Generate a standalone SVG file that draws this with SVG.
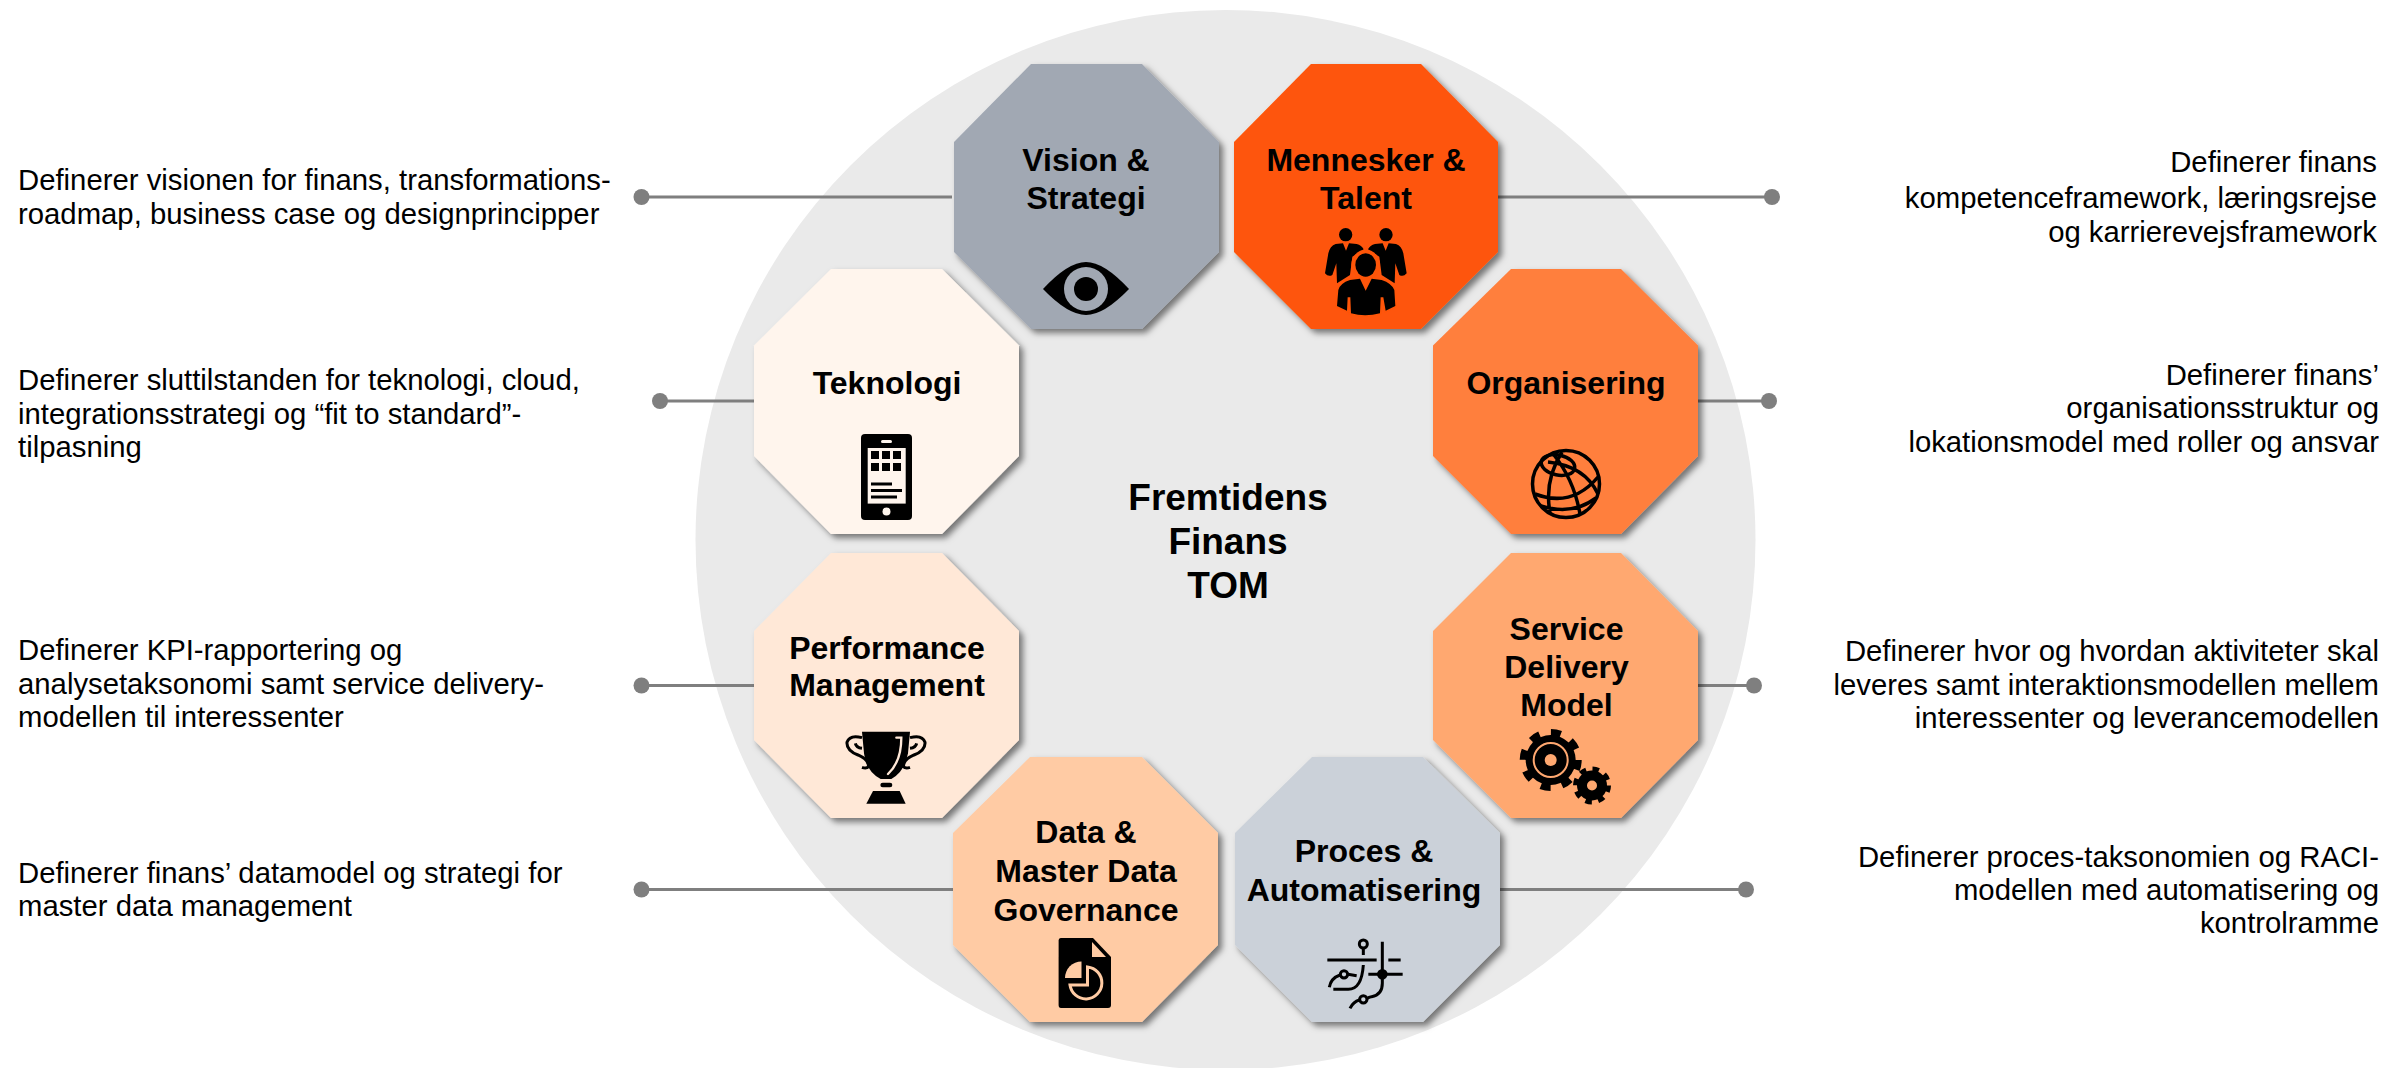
<svg xmlns="http://www.w3.org/2000/svg" width="2387" height="1068" viewBox="0 0 2387 1068">
<style>
text{font-family:"Liberation Sans",Arial,sans-serif;fill:#000}
.d{font-size:29.300px}
.r{text-anchor:end}
.n{font-size:32px;font-weight:700;text-anchor:middle}
.t{font-size:37px;font-weight:700;text-anchor:middle}
.oct{filter:url(#sh)}
.c{stroke:#7F7F7F;stroke-width:3;fill:none}
.dot{fill:#7F7F7F}
.k{fill:#000}
.sk{fill:none;stroke:#000}
</style>
<defs>
<filter id="sh" x="-10%" y="-10%" width="125%" height="125%"><feDropShadow dx="4" dy="4" stdDeviation="3" flood-color="#000" flood-opacity=".5"/></filter>
</defs>
<circle id="bg" cx="1225.500" cy="540" r="530" fill="#EAEAEA"/>
<g id="connectors">
<path class="c" d="M641 197H952"/><circle class="dot" cx="641.500" cy="197" r="8"/>
<path class="c" d="M660 401H756"/><circle class="dot" cx="660" cy="401" r="8"/>
<path class="c" d="M641 685.500H756"/><circle class="dot" cx="641.500" cy="685.500" r="8"/>
<path class="c" d="M641 889.500H955"/><circle class="dot" cx="641.500" cy="889.500" r="8"/>
<path class="c" d="M1496 197H1772"/><circle class="dot" cx="1772" cy="197" r="8"/>
<path class="c" d="M1696 401H1769"/><circle class="dot" cx="1769" cy="401" r="8"/>
<path class="c" d="M1696 685.500H1754"/><circle class="dot" cx="1754" cy="685.500" r="8"/>
<path class="c" d="M1498 889.500H1746"/><circle class="dot" cx="1746" cy="889.500" r="8"/>
</g>
<g id="desc-left">
<text class="d" x="18" y="190">Definerer visionen for finans, transformations-</text>
<text class="d" x="18" y="223.500">roadmap, business case og designprincipper</text>
<text class="d" x="18" y="390">Definerer sluttilstanden for teknologi, cloud,</text>
<text class="d" x="18" y="423.500">integrationsstrategi og “fit to standard”-</text>
<text class="d" x="18" y="457">tilpasning</text>
<text class="d" x="18" y="660">Definerer KPI-rapportering og</text>
<text class="d" x="18" y="694">analysetaksonomi samt service delivery-</text>
<text class="d" x="18" y="727">modellen til interessenter</text>
<text class="d" x="18" y="883">Definerer finans’ datamodel og strategi for</text>
<text class="d" x="18" y="916">master data management</text>
</g>
<g id="desc-right">
<text class="d r" x="2377" y="172">Definerer finans</text>
<text class="d r" x="2377" y="208">kompetenceframework, læringsrejse</text>
<text class="d r" x="2377" y="242">og karrierevejsframework</text>
<text class="d r" x="2379" y="385">Definerer finans’</text>
<text class="d r" x="2379" y="418">organisationsstruktur og</text>
<text class="d r" x="2379" y="452">lokationsmodel med roller og ansvar</text>
<text class="d r" x="2379" y="661">Definerer hvor og hvordan aktiviteter skal</text>
<text class="d r" x="2379" y="695">leveres samt interaktionsmodellen mellem</text>
<text class="d r" x="2379" y="728">interessenter og leverancemodellen</text>
<text class="d r" x="2379" y="867">Definerer proces-taksonomien og RACI-</text>
<text class="d r" x="2379" y="900">modellen med automatisering og</text>
<text class="d r" x="2379" y="933">kontrolramme</text>
</g>
<g id="center">
<text class="t" x="1228" y="510">Fremtidens</text>
<text class="t" x="1228" y="554">Finans</text>
<text class="t" x="1228" y="598">TOM</text>
</g>
<g id="vision">
<polygon class="oct" fill="#A1A8B3" points="1031,64 1142,64 1219,142 1219,252 1142,329 1031,329 954,252 954,142"/>
<text class="n" x="1086" y="171">Vision &amp;</text>
<text class="n" x="1086" y="209">Strategi</text>
<path class="k" d="M1043 289Q1068 262 1086 262Q1104 262 1129 289Q1104 315 1086 315Q1068 315 1043 289Z"/>
<circle cx="1086" cy="289" r="22" fill="#A1A8B3"/><circle class="k" cx="1086" cy="289" r="12"/>
</g>
<g id="mennesker">
<polygon class="oct" fill="#FE5508" points="1311,64 1421,64 1498,142 1498,252 1421,329 1311,329 1234,252 1234,142"/>
<text class="n" x="1366" y="171">Mennesker &amp;</text>
<text class="n" x="1366" y="209">Talent</text>
<g transform="translate(1315 220) scale(.3333)">
<circle class="k" cx="92" cy="44" r="20"/><circle class="k" cx="213" cy="44" r="20"/>
<path class="k" d="M62 72L84 70L93 92L102 70L125 72Q140 76 146 88L112 110L105 165L66 190L64 130L52 165Q40 172 30 160L40 100Q45 78 62 72Z"/>
<path class="k" d="M243 72L221 70L212 92L203 70L180 72Q165 76 159 88L193 110L200 165L239 190L241 130L253 165Q265 172 275 160L265 100Q260 78 243 72Z"/>
<ellipse cx="152" cy="135" rx="43" ry="46" fill="#FE5508"/>
<ellipse class="k" cx="152" cy="135" rx="31" ry="35"/>
<path class="k" stroke="#FE5508" stroke-width="10" paint-order="stroke" d="M70 210Q75 190 105 180L135 176L152 212L170 176L200 180Q230 190 238 210L241 258L212 272L205 232L197 232L195 280Q150 292 108 280L106 232L98 232L96 272L66 258Z"/>
</g>
</g>
<g id="teknologi">
<polygon class="oct" fill="#FFF5ED" points="831,269 942,269 1019,345.500 1019,456 942,534 831,534 754,456 754,345.500"/>
<text class="n" x="887" y="394">Teknologi</text>
<rect class="k" x="861" y="434" width="51" height="86" rx="4"/>
<rect x="867.700" y="448" width="38" height="55.600" fill="#FFF5ED"/>
<rect x="881" y="440" width="11" height="3" rx="1.500" fill="#FFF5ED"/>
<circle cx="886.500" cy="511.600" r="4" fill="#FFF5ED"/>
<path class="k" d="M871 451h8v8h-8zM882 451h8v8h-8zM893 451h8v8h-8zM871 463h8v8h-8zM882 463h8v8h-8zM893 463h8v8h-8z"/>
<path class="sk" stroke-width="2.800" d="M871 484H892M871 490.500H902M871 497H897"/>
</g>
<g id="organisering">
<polygon class="oct" fill="#FF7F3D" points="1511,269 1621,269 1698,345.500 1698,456 1621,534 1511,534 1433,456 1433,345.500"/>
<text class="n" x="1566" y="394">Organisering</text>
<g class="sk" stroke-width="3.500">
<circle cx="1566" cy="484" r="33.500"/>
<ellipse cx="1558" cy="465" rx="17" ry="10" transform="rotate(12 1558 465)"/>
<path d="M1562 452Q1544 480 1550 513M1554 455Q1574 480 1580 514M1535 494Q1572 508 1598 477M1541 506Q1572 516 1596 498M1548 462Q1585 466 1598 494"/>
</g>
</g>
<g id="performance">
<polygon class="oct" fill="#FFE8D7" points="831,553 942,553 1019,631 1019,740 942,818 831,818 754,740 754,631"/>
<text class="n" x="887" y="659">Performance</text>
<text class="n" x="887" y="696">Management</text>
<g transform="translate(838 725) scale(.3333)">
<path class="k" d="M72 20H216L210 85Q200 140 160 162H128Q85 140 78 85Z"/>
<path fill="none" stroke="#FFE8D7" stroke-width="7" stroke-linecap="round" d="M175 38H190Q190 110 150 147"/>
<path class="sk" stroke-width="9" d="M72 38Q35 28 27 52Q25 76 60 90Q92 104 92 125Q85 132 72 127M72 70Q55 68 52 55M216 38Q253 28 261 52Q263 76 228 90Q196 104 196 125Q203 132 216 127M216 70Q233 68 236 55"/>
<rect class="k" x="127" y="173" width="36" height="14" rx="7"/>
<path class="k" d="M105 198H185L203 236H85Z"/>
</g>
</g>
<g id="service">
<polygon class="oct" fill="#FFA870" points="1511,553 1621,553 1698,631 1698,740 1621,818 1511,818 1433,740 1433,631"/>
<text class="n" x="1566.500" y="640">Service</text>
<text class="n" x="1566.500" y="678">Delivery</text>
<text class="n" x="1566.500" y="716">Model</text>
<circle class="k" cx="1550.700" cy="760" r="25"/>
<circle class="sk" cx="1550.700" cy="760" r="27.500" stroke-width="7" stroke-dasharray="10 11.600"/>
<circle cx="1550.700" cy="760" r="17" fill="none" stroke="#FFA870" stroke-width="2"/>
<circle cx="1550.700" cy="760" r="6" fill="#FFA870"/>
<circle class="k" cx="1592" cy="785.500" r="15"/>
<circle class="sk" cx="1592" cy="785.500" r="16.500" stroke-width="5" stroke-dasharray="6.500 6.460"/>
<circle cx="1592" cy="785.500" r="5" fill="#FFA870"/>
</g>
<g id="data">
<polygon class="oct" fill="#FFCBA4" points="1030,757 1142,757 1218,833 1218,945 1142,1022 1030,1022 953,945 953,833"/>
<text class="n" x="1086" y="843">Data &amp;</text>
<text class="n" x="1086" y="882">Master Data</text>
<text class="n" x="1086" y="921">Governance</text>
<path class="k" d="M1061 938H1093L1111 957V1005Q1111 1008 1108 1008H1061Q1058.600 1008 1058.600 1005V941Q1058.600 938 1061 938Z"/>
<path d="M1092 942L1106 957H1092Z" fill="#FFCBA4"/>
<path d="M1081.500 978H1065A16.500 16.500 0 0 1 1081.500 961.500Z" fill="#FFCBA4"/>
<path d="M1087.500 967A16 16 0 1 1 1070 985H1087.500Z" fill="none" stroke="#FFCBA4" stroke-width="3"/>
</g>
<g id="proces">
<polygon class="oct" fill="#CBD1D9" points="1312,757 1423,757 1500,833 1500,945 1423,1022 1312,1022 1235,945 1235,833"/>
<text class="n" x="1364" y="862">Proces &amp;</text>
<text class="n" x="1364" y="901">Automatisering</text>
<g transform="translate(1320 930) scale(.3333)">
<g class="sk" stroke-width="9">
<circle cx="130" cy="42" r="12"/>
<circle cx="72" cy="133" r="11"/>
<circle cx="130" cy="208" r="11"/>
<path d="M130 55V75M22 90H170M205 90H242M145 133H248M187 35V160Q187 195 155 200Q146 202 142 205M28 172Q32 145 60 135M84 133L110 137M40 178H85Q125 178 130 105M90 235Q100 215 118 210"/>
</g>
<circle class="k" cx="187" cy="133" r="16"/>
</g>
</g>
</svg>
